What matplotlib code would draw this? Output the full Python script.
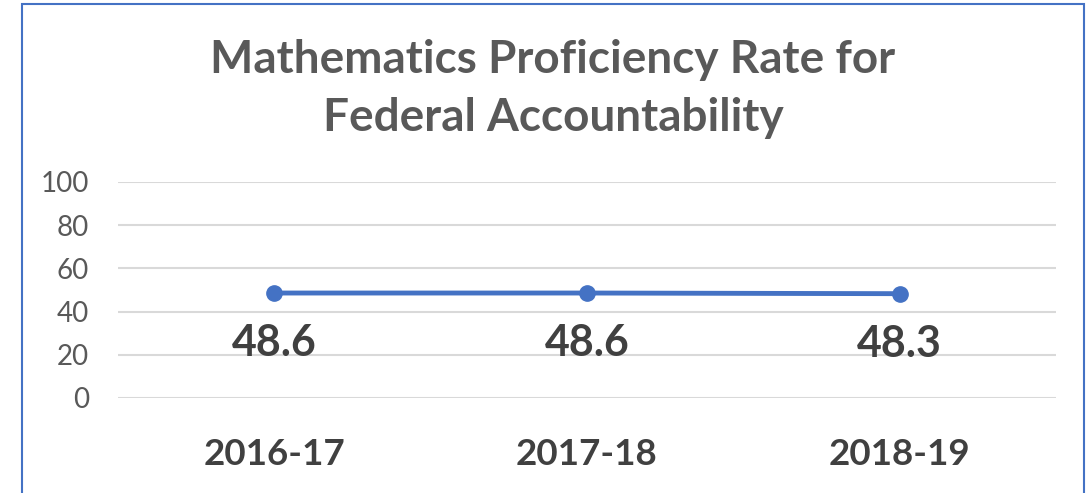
import matplotlib.pyplot as plt
from matplotlib.patches import Rectangle

years = ["2016-17", "2017-18", "2018-19"]
rates = [48.6, 48.6, 48.3]
y_ticks = [0, 20, 40, 60, 80, 100]

plt.rcParams['font.family'] = ['Lato', 'DejaVu Sans']

W, H = 1092, 493
fig = plt.figure(figsize=(W / 100, H / 100), dpi=100)
ax = fig.add_axes([118 / W, 1 - 398 / H, (1056 - 118) / W, (398 - 182) / H])

x = list(range(len(years)))
ax.plot(x, rates, color="#4472C4", lw=3.5, marker="o", ms=11, zorder=3)

# data labels under the points
for xi, v in zip(x, rates):
    ax.annotate(f"{v}", (xi, v), xytext=(0, -36), textcoords="offset points",
                ha="center", va="center", fontsize=31, fontweight="bold",
                color="#404040")

ax.set_xlim(-0.5, 2.5)
ax.set_ylim(0, 100)
ax.set_yticks(y_ticks)
ax.set_yticklabels([str(t) for t in y_ticks], fontsize=20, color="#595959")
ax.set_xticks(x)
ax.set_xticklabels(years, fontsize=26.5, fontweight="bold", color="#404040")
ax.tick_params(axis="both", length=0)
ax.tick_params(axis="y", pad=21)
ax.tick_params(axis="x", pad=29)
ax.grid(axis="y", color="#D9D9D9", lw=1.5)
ax.set_axisbelow(True)
for s in ax.spines.values():
    s.set_visible(False)

fig.text(553 / W, 1 - 89 / H, "Mathematics Proficiency Rate for\nFederal Accountability",
         ha="center", va="center", fontsize=33, fontweight="bold",
         color="#595959", linespacing=1.45)

# chart border (bottom edge is cut off)
fig.patches.append(Rectangle((22 / W, -0.05), (1084 - 22) / W, 1 - 4 / H + 0.05,
                             transform=fig.transFigure, fill=False,
                             edgecolor="#4472C4", lw=1.5))

fig.savefig("out.png", dpi=100)
